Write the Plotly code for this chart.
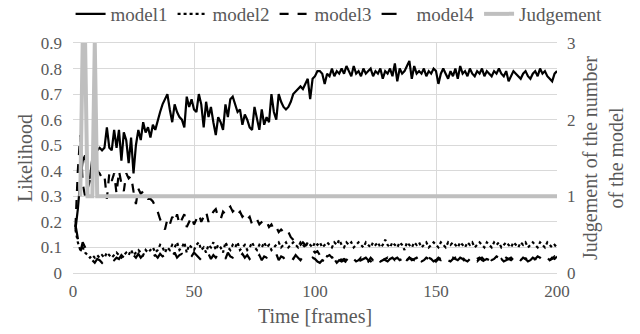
import plotly.graph_objects as go

frames = list(range(1, 201))

model1 = [
    0.17, 0.25, 0.36, 0.44, 0.46, 0.38, 0.37, 0.45, 0.47, 0.48,
    0.49, 0.48, 0.49, 0.57, 0.49, 0.48, 0.56, 0.49, 0.56, 0.44,
    0.55, 0.52, 0.43, 0.53, 0.39, 0.50, 0.56, 0.52, 0.59, 0.55,
    0.57, 0.53, 0.58, 0.56, 0.60, 0.63, 0.66, 0.68, 0.70, 0.64,
    0.59, 0.66, 0.63, 0.61, 0.60, 0.57, 0.69, 0.65, 0.68, 0.64,
    0.63, 0.70, 0.66, 0.57, 0.67, 0.61, 0.65, 0.59, 0.54, 0.61,
    0.59, 0.56, 0.66, 0.61, 0.68, 0.69, 0.66, 0.63, 0.64, 0.58,
    0.62, 0.60, 0.57, 0.56, 0.65, 0.61, 0.56, 0.64, 0.58, 0.61,
    0.59, 0.70, 0.63, 0.60, 0.70, 0.67, 0.65, 0.64, 0.65, 0.67,
    0.70, 0.71, 0.72, 0.73, 0.72, 0.74, 0.76, 0.68, 0.76, 0.77,
    0.79, 0.79, 0.78, 0.74, 0.78, 0.77, 0.80, 0.77, 0.79, 0.78,
    0.80, 0.78, 0.81, 0.79, 0.77, 0.81, 0.78, 0.79, 0.77, 0.80,
    0.78, 0.79, 0.80, 0.77, 0.79, 0.78, 0.80, 0.76, 0.79, 0.78,
    0.80, 0.77, 0.82, 0.75, 0.80, 0.78, 0.79, 0.81, 0.83, 0.76,
    0.81, 0.78, 0.79, 0.78, 0.80, 0.77, 0.79, 0.78, 0.80, 0.79,
    0.74, 0.78, 0.80, 0.78, 0.76, 0.79, 0.77, 0.80, 0.76, 0.81,
    0.78, 0.79, 0.77, 0.80, 0.78, 0.77, 0.79, 0.78, 0.80, 0.77,
    0.79, 0.78, 0.77, 0.79, 0.78, 0.80, 0.78, 0.77, 0.79, 0.75,
    0.77, 0.79, 0.78, 0.77, 0.76, 0.78, 0.79, 0.77, 0.76, 0.78,
    0.79, 0.77, 0.80, 0.78, 0.79, 0.77, 0.76, 0.75, 0.78, 0.79,
]

model2 = [
    0.17, 0.12, 0.09, 0.10, 0.08, 0.07, 0.06, 0.07, 0.06, 0.07,
    0.06, 0.07, 0.06, 0.08, 0.07, 0.06, 0.07, 0.08, 0.07, 0.06,
    0.07, 0.08, 0.07, 0.09, 0.07, 0.08, 0.09, 0.08, 0.07, 0.09,
    0.08, 0.09, 0.10, 0.08, 0.09, 0.11, 0.10, 0.08, 0.10, 0.09,
    0.11, 0.10, 0.12, 0.09, 0.10, 0.12, 0.08, 0.11, 0.10, 0.09,
    0.11, 0.12, 0.09, 0.10, 0.08, 0.11, 0.10, 0.12, 0.09, 0.11,
    0.10, 0.08, 0.12, 0.10, 0.09, 0.11, 0.10, 0.12, 0.09, 0.10,
    0.11, 0.09, 0.10, 0.12, 0.10, 0.09, 0.11, 0.10, 0.12, 0.10,
    0.11, 0.09, 0.10, 0.11, 0.12, 0.10, 0.11, 0.12, 0.10, 0.11,
    0.12, 0.11, 0.10, 0.12, 0.11, 0.10, 0.12, 0.11, 0.10, 0.12,
    0.11, 0.12, 0.10, 0.11, 0.12, 0.11, 0.10, 0.12, 0.11, 0.13,
    0.11, 0.10, 0.12, 0.11, 0.12, 0.10, 0.11, 0.12, 0.11, 0.10,
    0.12, 0.11, 0.10, 0.12, 0.11, 0.12, 0.10, 0.11, 0.13, 0.11,
    0.10, 0.12, 0.11, 0.10, 0.12, 0.11, 0.09, 0.12, 0.11, 0.10,
    0.12, 0.11, 0.12, 0.10, 0.11, 0.12, 0.10, 0.11, 0.12, 0.11,
    0.10, 0.12, 0.11, 0.10, 0.12, 0.11, 0.12, 0.11, 0.10, 0.12,
    0.11, 0.10, 0.12, 0.11, 0.12, 0.10, 0.11, 0.12, 0.11, 0.10,
    0.12, 0.11, 0.10, 0.12, 0.11, 0.12, 0.10, 0.11, 0.12, 0.11,
    0.10, 0.12, 0.11, 0.10, 0.12, 0.11, 0.12, 0.10, 0.11, 0.12,
    0.11, 0.10, 0.12, 0.11, 0.10, 0.12, 0.11, 0.10, 0.11, 0.10,
]

model3 = [
    0.18, 0.40, 0.54, 0.35, 0.30, 0.33, 0.36, 0.38, 0.39, 0.40,
    0.39, 0.37, 0.38, 0.29, 0.39, 0.36, 0.39, 0.31, 0.40, 0.35,
    0.32, 0.39, 0.37, 0.38, 0.32, 0.27, 0.33, 0.31, 0.32, 0.30,
    0.29, 0.29, 0.28, 0.26, 0.24, 0.21, 0.19, 0.17, 0.21, 0.19,
    0.22, 0.20, 0.23, 0.19, 0.21, 0.23, 0.18, 0.20, 0.22, 0.19,
    0.21, 0.23, 0.20, 0.22, 0.24, 0.20, 0.22, 0.24, 0.25, 0.22,
    0.21, 0.24, 0.23, 0.25, 0.26, 0.24, 0.25, 0.23, 0.24, 0.22,
    0.23, 0.21, 0.22, 0.19, 0.20, 0.21, 0.19, 0.20, 0.21, 0.20,
    0.18, 0.19, 0.17, 0.18, 0.16, 0.17, 0.16, 0.15, 0.16, 0.14,
    0.13, 0.12, 0.12, 0.11, 0.12, 0.11, 0.10, 0.10, 0.09, 0.08,
    0.085, 0.07, 0.08, 0.07, 0.065, 0.07, 0.06, 0.065, 0.055, 0.06,
    0.05, 0.055, 0.05, 0.06, 0.05, 0.055, 0.045, 0.05, 0.06, 0.05,
    0.055, 0.045, 0.06, 0.05, 0.055, 0.06, 0.045, 0.05, 0.055, 0.06,
    0.05, 0.045, 0.055, 0.06, 0.05, 0.055, 0.065, 0.05, 0.06, 0.055,
    0.05, 0.06, 0.055, 0.045, 0.05, 0.06, 0.055, 0.05, 0.06, 0.045,
    0.055, 0.05, 0.06, 0.055, 0.05, 0.045, 0.055, 0.06, 0.05, 0.055,
    0.06, 0.05, 0.045, 0.055, 0.06, 0.05, 0.055, 0.06, 0.05, 0.045,
    0.055, 0.06, 0.05, 0.055, 0.065, 0.06, 0.055, 0.05, 0.06, 0.055,
    0.05, 0.06, 0.065, 0.055, 0.05, 0.06, 0.055, 0.065, 0.06, 0.05,
    0.055, 0.065, 0.06, 0.05, 0.055, 0.06, 0.05, 0.055, 0.065, 0.06,
]

model4 = [
    0.19, 0.13, 0.08, 0.12, 0.10, 0.07, 0.06, 0.05, 0.04, 0.055,
    0.05, 0.04, 0.05, 0.045, 0.06, 0.06, 0.05, 0.06, 0.055, 0.07,
    0.06, 0.07, 0.055, 0.065, 0.07, 0.06, 0.075, 0.06, 0.07, 0.065,
    0.07, 0.08, 0.065, 0.07, 0.06, 0.075, 0.065, 0.07, 0.055, 0.07,
    0.065, 0.08, 0.06, 0.07, 0.075, 0.06, 0.07, 0.055, 0.065, 0.08,
    0.07, 0.06, 0.05, 0.04, 0.06, 0.075, 0.055, 0.07, 0.06, 0.075,
    0.06, 0.07, 0.055, 0.08, 0.065, 0.06, 0.07, 0.05, 0.065, 0.075,
    0.06, 0.07, 0.055, 0.065, 0.08, 0.06, 0.07, 0.05, 0.065, 0.06,
    0.07, 0.055, 0.06, 0.075, 0.05, 0.065, 0.06, 0.045, 0.07, 0.06,
    0.055, 0.07, 0.06, 0.05, 0.065, 0.055, 0.06, 0.05, 0.06, 0.055,
    0.045, 0.04, 0.05, 0.045, 0.04, 0.05, 0.045, 0.055, 0.04, 0.05,
    0.045, 0.05, 0.04, 0.045, 0.05, 0.055, 0.05, 0.045, 0.05, 0.055,
    0.06, 0.05, 0.045, 0.055, 0.06, 0.05, 0.055, 0.06, 0.05, 0.045,
    0.055, 0.06, 0.05, 0.055, 0.045, 0.06, 0.055, 0.05, 0.06, 0.05,
    0.055, 0.06, 0.045, 0.05, 0.055, 0.05, 0.06, 0.055, 0.045, 0.05,
    0.06, 0.055, 0.05, 0.045, 0.055, 0.05, 0.06, 0.055, 0.05, 0.06,
    0.055, 0.045, 0.05, 0.06, 0.055, 0.05, 0.045, 0.055, 0.06, 0.05,
    0.055, 0.05, 0.045, 0.055, 0.06, 0.05, 0.055, 0.045, 0.05, 0.055,
    0.06, 0.05, 0.045, 0.055, 0.05, 0.06, 0.055, 0.045, 0.05, 0.06,
    0.055, 0.05, 0.045, 0.05, 0.055, 0.045, 0.05, 0.06, 0.055, 0.065,
]

judgement = [None, None, 1, 3, 3, 1, 1, 1, 3, 1] + [1] * 190

left_ticks = [0, 0.1, 0.2, 0.3, 0.4, 0.5, 0.6, 0.7, 0.8, 0.9]
left_labels = ["0", "0.1", "0.2", "0.3", "0.4", "0.5", "0.6", "0.7", "0.8", "0.9"]
right_ticks = [0, 1, 2, 3]
x_ticks = [0, 50, 100, 150, 200]

FONT = "Liberation Serif"
TXT = "#595959"
GRID = "#d9d9d9"


def f(size):
    return dict(family=FONT, color=TXT, size=size)


fig = go.Figure()

fig.add_trace(go.Scatter(x=frames, y=judgement, name="Judgement", yaxis="y2",
                         mode="lines", line=dict(color="#bfbfbf", width=4),
                         legendrank=5, connectgaps=False))
fig.add_trace(go.Scatter(x=frames, y=model1, name="model1", mode="lines",
                         line=dict(color="black", width=2.2), legendrank=1))
fig.add_trace(go.Scatter(x=frames, y=model2, name="model2", mode="lines",
                         line=dict(color="black", width=2.2, dash="dot"), legendrank=2))
fig.add_trace(go.Scatter(x=frames, y=model3, name="model3", mode="lines",
                         line=dict(color="black", width=2.2, dash="dash"), legendrank=3))
fig.add_trace(go.Scatter(x=frames, y=model4, name="model4", mode="lines",
                         line=dict(color="black", width=2.2, dash="longdash"), legendrank=4))

fig.update_layout(
    width=640, height=334,
    margin=dict(l=73, r=83, t=43, b=61, autoexpand=False),
    paper_bgcolor="white", plot_bgcolor="white",
    font=f(17),
    legend=dict(orientation="h", x=-0.005, xanchor="left",
                y=1.126, yanchor="middle",
                font=f(19), itemwidth=30,
                traceorder="normal"),
    xaxis=dict(range=[0, 200], tickvals=x_ticks, showgrid=True, gridcolor=GRID,
               gridwidth=1, showline=True, linecolor=GRID, mirror=True,
               zeroline=False, ticks="", tickfont=f(17),
               ticklabelstandoff=3, automargin=False,
               title=dict(text="Time [frames]", font=f(20), standoff=8)),
    yaxis=dict(range=[0, 0.9], tickvals=left_ticks, ticktext=left_labels,
               showgrid=True, gridcolor=GRID, zeroline=False, ticks="",
               tickfont=f(17), ticklabelstandoff=10, automargin=False,
               title=dict(text="Likelihood", font=f(20), standoff=2)),
    yaxis2=dict(range=[0, 3], tickvals=right_ticks, overlaying="y", side="right",
                showgrid=False, zeroline=False, ticks="", tickfont=f(17),
                ticklabelstandoff=9, automargin=False,
                title=dict(text="Judgement of the number<br>of the model",
                           font=f(20), standoff=8)),
)

fig.write_html("out.html", config={"displayModeBar": False},
               post_script="document.body.style.margin='0px';")
